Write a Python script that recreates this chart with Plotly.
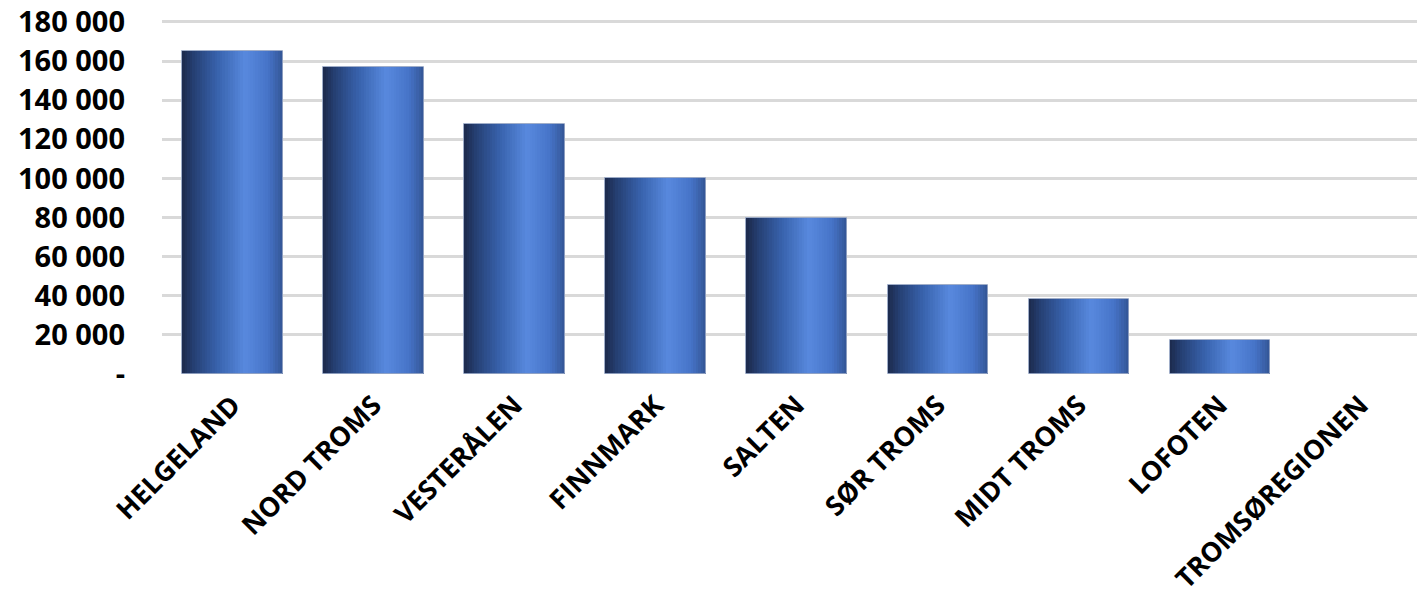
import plotly.graph_objects as go

categories = ["HELGELAND", "NORD TROMS", "VESTERÅLEN", "FINNMARK", "SALTEN",
              "SØR TROMS", "MIDT TROMS", "LOFOTEN", "TROMSØREGIONEN"]
values = [165000, 157000, 128000, 100000, 80000, 45500, 38500, 17500, 0]
tick_vals = [0, 20000, 40000, 60000, 80000, 100000, 120000, 140000, 160000, 180000]
tick_text = ["-", "20 000", "40 000", "60 000", "80 000", "100 000",
             "120 000", "140 000", "160 000", "180 000"]

# horizontal gradient stops across a bar (position, rgb)
grad = [(0.0, (28, 42, 76)), (0.12, (38, 64, 116)), (0.35, (56, 98, 172)),
        (0.62, (88, 137, 222)), (0.85, (70, 116, 200)), (1.0, (52, 86, 150))]

def color_at(t):
    for (p0, c0), (p1, c1) in zip(grad[:-1], grad[1:]):
        if p0 <= t <= p1:
            f = (t - p0) / (p1 - p0)
            c = [round(a + (b - a) * f) for a, b in zip(c0, c1)]
            return "rgb(%d,%d,%d)" % tuple(c)
    return "rgb(%d,%d,%d)" % grad[-1][1]

bar_w = 0.71
N = 40
fig = go.Figure()
sw = bar_w / N
for i in range(N):
    t = (i + 0.5) / N
    w = sw * 1.6 if i < N - 1 else sw
    fig.add_trace(go.Bar(
        x=categories, y=values, width=w, offset=-bar_w / 2 + i * sw,
        marker=dict(color=color_at(t), line=dict(width=0)),
        hoverinfo="skip", showlegend=False))
# outline (hidden for empty bars)
outline_colors = ["rgba(150,165,195,0.9)" if v > 0 else "rgba(0,0,0,0)" for v in values]
fig.add_trace(go.Bar(
    x=categories, y=values, width=bar_w, offset=-bar_w / 2,
    marker=dict(color="rgba(0,0,0,0)", line=dict(width=1, color=outline_colors)),
    showlegend=False))

tf = dict(family="Open Sans", size=29, color="black", weight="bold")
xtf = dict(family="Open Sans", size=27, color="black", weight="bold")
fig.update_layout(
    width=1417, height=605,
    barmode="overlay",
    bargap=0,
    plot_bgcolor="white", paper_bgcolor="white",
    margin=dict(l=162, r=0, t=18, b=231, autoexpand=False),
    font=tf,
    xaxis=dict(range=[-0.5, 8.4], tickangle=-45, showgrid=False, showline=False,
               ticks="", automargin=False, ticklabelstandoff=9, tickfont=xtf),
    yaxis=dict(range=[0, 182000], tickvals=tick_vals, ticktext=tick_text,
               showgrid=True, gridcolor="#d9d9d9", gridwidth=3, zeroline=False,
               showline=False, ticks="", automargin=False, ticklabelstandoff=36,
               ticklabeloverflow="allow", tickfont=tf),
)

fig.write_html("out.html", config={"displayModeBar": False},
               post_script="document.body.style.margin='0px';document.body.style.overflow='hidden';")
